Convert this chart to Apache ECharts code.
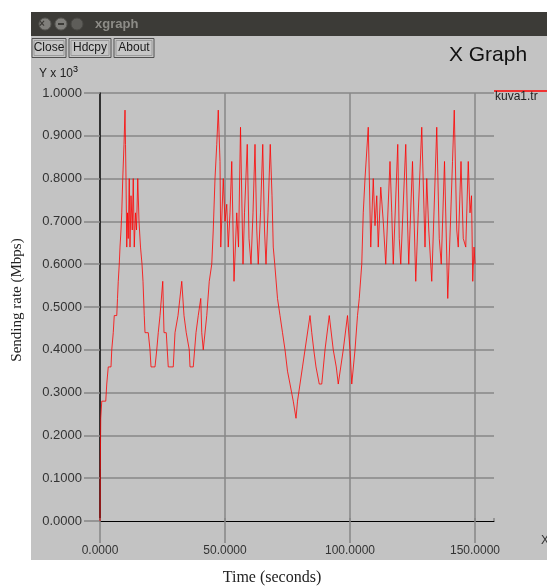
<!DOCTYPE html>
<html>
<head>
<meta charset="utf-8">
<title>xgraph</title>
<script src="https://cdn.jsdelivr.net/npm/echarts@6/dist/echarts.min.js"></script>
<style>
  html, body { margin: 0; padding: 0; background: #fff; }
  #chart { width: 547px; height: 587px; }
</style>
</head>
<body>
<div id="chart"></div>
<script>
var times = [
  0, 0.1, 0.3, 0.7, 2.3, 2.7, 3.3, 4.4, 4.7, 5.3, 5.7, 6.7, 7.0, 7.3, 7.7, 8.0, 8.4, 8.7, 9.1, 9.6,
  10.0, 10.2, 10.4, 10.7, 11.0, 11.3, 11.7, 12.0, 12.4, 12.9, 13.3, 13.7, 14.2, 14.6, 15.1, 15.6, 16.2, 16.8, 17.2, 17.7,
  18.0, 19.3, 20.0, 20.4, 22.0, 22.7, 23.3, 24.0, 25.1, 25.6, 26.5, 27.3, 29.3, 30.0, 31.2, 32.7, 33.6, 34.5, 35.7, 36.0,
  37.3, 38.4, 39.3, 40.3, 40.7, 41.3, 42.0, 42.7, 43.7, 44.7, 45.3, 46.0, 46.7, 47.3, 48.0, 48.3, 49.3, 50.0, 50.7, 51.3,
  52.0, 52.7, 53.6, 54.7, 55.4, 56.2, 57.2, 57.8, 58.9, 59.6, 60.4, 61.2, 62.0, 62.7, 63.3, 64.2, 65.1, 65.8, 66.4, 67.2,
  68.1, 68.8, 69.3, 69.9, 70.3, 71.0, 72.0, 73.0, 74.0, 75.0, 76.0, 77.3, 78.4, 79.0, 80.0, 81.0, 82.0, 84.0, 84.7, 85.5,
  86.4, 87.7, 88.7, 90.0, 91.7, 93.3, 94.5, 95.3, 96.0, 97.3, 99.0, 100.0, 100.7, 102.0, 103.0, 103.7, 104.7, 105.3, 106.0, 107.3,
  108.3, 109.3, 110.0, 110.7, 111.3, 112.3, 113.3, 114.3, 116.0, 116.7, 117.3, 119.1, 119.7, 120.3, 122.3, 123.0, 123.5, 125.0, 126.3, 127.3,
  128.7, 130.0, 130.7, 131.5, 132.7, 134.7, 135.7, 136.5, 137.8, 139.1, 140.2, 141.0, 141.7, 142.7, 143.3, 144.4, 145.3, 146.3, 147.3, 148.0,
  148.6, 149.1, 149.6, 150.0
];
var rates = [
  0, 0.12, 0.24, 0.28, 0.28, 0.32, 0.36, 0.36, 0.40, 0.44, 0.48, 0.48, 0.52, 0.56, 0.60, 0.64, 0.68, 0.72, 0.80, 0.88,
  0.96, 0.88, 0.80, 0.64, 0.72, 0.66, 0.80, 0.64, 0.76, 0.68, 0.80, 0.64, 0.72, 0.68, 0.80, 0.70, 0.64, 0.60, 0.56, 0.48,
  0.44, 0.44, 0.40, 0.36, 0.36, 0.40, 0.44, 0.48, 0.56, 0.44, 0.44, 0.36, 0.36, 0.44, 0.48, 0.56, 0.48, 0.44, 0.40, 0.36,
  0.36, 0.44, 0.48, 0.52, 0.44, 0.40, 0.40, 0.48, 0.56, 0.60, 0.68, 0.80, 0.88, 0.96, 0.84, 0.64, 0.80, 0.70, 0.74, 0.64,
  0.72, 0.84, 0.56, 0.72, 0.64, 0.92, 0.60, 0.72, 0.88, 0.66, 0.60, 0.72, 0.88, 0.68, 0.60, 0.72, 0.88, 0.68, 0.60, 0.72,
  0.88, 0.76, 0.64, 0.60, 0.60, 0.52, 0.48, 0.44, 0.40, 0.35, 0.32, 0.28, 0.24, 0.28, 0.32, 0.36, 0.40, 0.48, 0.44, 0.40,
  0.36, 0.32, 0.32, 0.40, 0.48, 0.40, 0.36, 0.32, 0.32, 0.40, 0.48, 0.40, 0.32, 0.40, 0.48, 0.52, 0.60, 0.72, 0.80, 0.92,
  0.64, 0.80, 0.69, 0.76, 0.64, 0.78, 0.70, 0.60, 0.84, 0.72, 0.60, 0.88, 0.66, 0.60, 0.88, 0.70, 0.60, 0.84, 0.56, 0.72,
  0.92, 0.64, 0.80, 0.68, 0.56, 0.92, 0.66, 0.60, 0.84, 0.52, 0.70, 0.84, 0.96, 0.68, 0.64, 0.84, 0.66, 0.64, 0.84, 0.72,
  0.76, 0.56, 0.64, 0.60
];
var buttonLabels = ['Close', 'Hdcpy', 'About'];

var points = times.map(function (t, i) { return [t, rates[i]]; });

var gridCol = '#878787';
var sans = 'Liberation Sans, Arial, sans-serif';
var serif = 'Liberation Serif, Times New Roman, serif';

var btnX = [32, 69, 114], btnW = [34, 42, 40];
var buttons = buttonLabels.map(function (b, i) {
  return {
    type: 'group',
    children: [
      { type: 'rect', shape: { x: btnX[i], y: 38.5, width: btnW[i], height: 19 },
        style: { fill: '#c6c6c6', stroke: '#505050', lineWidth: 1 } },
      { type: 'rect', shape: { x: btnX[i] + 2, y: 40.5, width: btnW[i] - 4, height: 15 },
        style: { fill: 'none', stroke: '#9a9a9a', lineWidth: 1 } },
      { type: 'text', x: btnX[i] + btnW[i] / 2, y: 48,
        style: { text: b, fill: '#1a1a1a', font: '12px ' + sans, align: 'center', verticalAlign: 'middle' } }
    ]
  };
});

var chart = echarts.init(document.getElementById('chart'));
var option = {
  backgroundColor: '#fff',
  animation: false,
  grid: { left: 100, right: 53, top: 93, bottom: 66 },
  xAxis: [{
    type: 'value',
    min: 0,
    max: 157.6,
    interval: 50,
    axisLine: { onZero: false, lineStyle: { color: '#000', width: 1 } },
    axisTick: { length: 22, lineStyle: { color: gridCol, width: 1.5 } },
    axisLabel: {
      margin: 24, color: '#333', fontSize: 12, fontFamily: sans,
      showMaxLabel: false,
      formatter: function (v) { return v.toFixed(4); }
    },
    splitLine: { show: true, showMinLine: false, showMaxLine: false, lineStyle: { color: gridCol, width: 1.5 } }
  }, {
    type: 'value',
    position: 'top',
    min: 0,
    max: 157.6,
    interval: 50,
    axisLine: { show: false },
    axisTick: { length: 3, lineStyle: { color: gridCol, width: 1.5 } },
    axisLabel: { show: false },
    splitLine: { show: false }
  }],
  yAxis: {
    type: 'value',
    min: 0,
    max: 1,
    interval: 0.1,
    axisLine: { show: true, onZero: false, lineStyle: { color: '#000', width: 1.5 } },
    axisTick: { length: 16, lineStyle: { color: gridCol, width: 1.5 } },
    axisLabel: {
      margin: 18, color: '#333', fontSize: 13, fontFamily: sans,
      formatter: function (v) { return v.toFixed(4); }
    },
    splitLine: { show: true, showMinLine: false, lineStyle: { color: gridCol, width: 1.5 } }
  },
  series: [{
    name: 'kuva1.tr',
    type: 'line',
    data: points,
    showSymbol: false,
    lineStyle: { color: 'rgba(255,0,0,0.8)', width: 1 },
    z: 5
  }],
  graphic: [
    { type: 'rect', z: -10, shape: { x: 31, y: 36, width: 516, height: 524 }, style: { fill: '#c3c3c3' } },
    { type: 'rect', z: -9, shape: { x: 31, y: 12, width: 516, height: 24 }, style: { fill: '#3c3b37' } },
    { type: 'circle', shape: { cx: 45, cy: 24, r: 6 }, style: { fill: '#807f7b', stroke: '#5a5955' } },
    { type: 'circle', shape: { cx: 61, cy: 24, r: 6 }, style: { fill: '#807f7b', stroke: '#5a5955' } },
    { type: 'circle', shape: { cx: 77, cy: 24, r: 6 }, style: { fill: '#5e5d59', stroke: '#4a4945' } },
    { type: 'text', x: 42, y: 24, style: { text: '×', fill: '#3c3b37', font: 'bold 10px ' + sans, align: 'center', verticalAlign: 'middle' } },
    { type: 'rect', shape: { x: 58, y: 23, width: 6, height: 2 }, style: { fill: '#3c3b37' } },
    { type: 'text', x: 95, y: 24, style: { text: 'xgraph', fill: '#8d8c87', font: 'bold 13px ' + sans, verticalAlign: 'middle' } }
  ].concat(buttons).concat([
    { type: 'text', x: 488, y: 55, style: { text: 'X Graph', fill: '#111', font: '21px ' + sans, align: 'center', verticalAlign: 'middle' } },
    { type: 'text', x: 39, y: 74, style: {
        text: '{a|Y x 10}{s|3}', verticalAlign: 'middle',
        rich: {
          a: { fontSize: 12, fontFamily: sans, fill: '#222', color: '#222' },
          s: { fontSize: 9, fontFamily: sans, color: '#222', verticalAlign: 'top', padding: [0, 0, 8, 0] }
        } } },
    { type: 'line', shape: { x1: 494, y1: 91, x2: 547, y2: 91 }, style: { stroke: '#ff0000', lineWidth: 1.5 } },
    { type: 'text', x: 495, y: 97, style: { text: 'kuva1.tr', fill: '#222', font: '12px ' + sans, verticalAlign: 'middle' } },
    { type: 'text', x: 541, y: 541, style: { text: 'X', fill: '#333', font: '12px ' + sans, verticalAlign: 'middle' } },
    { type: 'text', x: 17, y: 300, rotation: Math.PI / 2, style: { text: 'Sending rate (Mbps)', fill: '#222', font: '15px ' + serif, align: 'center', verticalAlign: 'middle' } },
    { type: 'text', x: 272, y: 578, style: { text: 'Time (seconds)', fill: '#222', font: '16px ' + serif, align: 'center', verticalAlign: 'middle' } }
  ])
};
chart.setOption(option);
</script>
</body>
</html>
